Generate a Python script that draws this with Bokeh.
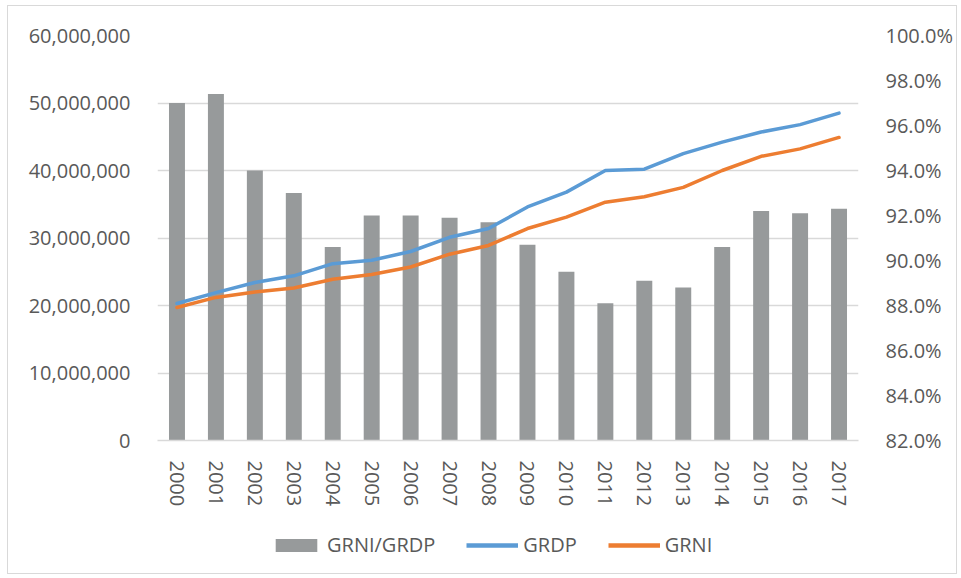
from bokeh.plotting import figure
from bokeh.layouts import column
from bokeh.models import (ColumnDataSource, FactorRange, Range1d, LinearAxis,
                          NumeralTickFormatter, PrintfTickFormatter, FixedTicker,
                          Legend, LegendItem)
from bokeh.embed import file_html
from bokeh.resources import INLINE

years = ["2000", "2001", "2002", "2003", "2004", "2005", "2006", "2007", "2008",
         "2009", "2010", "2011", "2012", "2013", "2014", "2015", "2016", "2017"]
ratio_pct = [97.0, 97.4, 94.0, 93.0, 90.6, 92.0, 92.0, 91.9, 91.7,
             90.7, 89.5, 88.1, 89.1, 88.8, 90.6, 92.2, 92.1, 92.3]
grdp = [20.3e6, 21.9e6, 23.4e6, 24.4e6, 26.2e6, 26.7e6, 28.0e6, 30.1e6, 31.4e6,
        34.6e6, 36.8e6, 40.0e6, 40.2e6, 42.5e6, 44.2e6, 45.7e6, 46.8e6, 48.5e6]
grni = [19.7e6, 21.2e6, 22.0e6, 22.6e6, 23.9e6, 24.6e6, 25.7e6, 27.6e6, 28.9e6,
        31.4e6, 33.1e6, 35.3e6, 36.1e6, 37.5e6, 40.0e6, 42.1e6, 43.2e6, 44.9e6]
left_ticks = [0, 10e6, 20e6, 30e6, 40e6, 50e6, 60e6]
right_ticks = [82, 84, 86, 88, 90, 92, 94, 96, 98, 100]
series_names = ["GRNI/GRDP", "GRDP", "GRNI"]

FONT = "Open Sans"
TXT = "#595959"
GRID = "#d9d9d9"
BAR_C = "#979a9b"
GRDP_C = "#5b9bd5"
GRNI_C = "#ed7d31"

src = ColumnDataSource(dict(year=years, ratio=ratio_pct, grdp=grdp, grni=grni))

p = figure(x_range=FactorRange(factors=years), y_range=Range1d(0, 60e6),
           frame_width=701, frame_height=405,
           min_border_left=149, min_border_right=94, min_border_top=29, min_border_bottom=79,
           output_backend="svg", toolbar_location=None)
p.extra_y_ranges = {"pct": Range1d(82, 100)}
p.outline_line_color = None
p.background_fill_color = "white"
p.border_fill_color = "white"

# left axis
ya = p.yaxis[0]
ya.ticker = FixedTicker(ticks=left_ticks)
ya.formatter = NumeralTickFormatter(format="0,0")
ya.axis_line_color = None
ya.major_tick_line_color = None
ya.minor_tick_line_color = None
ya.major_label_text_font = FONT
ya.major_label_text_font_size = "20px"
ya.major_label_text_color = TXT
ya.major_label_standoff = 21

# right axis
ra = LinearAxis(y_range_name="pct", ticker=FixedTicker(ticks=right_ticks),
                formatter=PrintfTickFormatter(format="%.1f%%"))
ra.axis_line_color = None
ra.major_tick_line_color = None
ra.minor_tick_line_color = None
ra.major_label_text_font = FONT
ra.major_label_text_font_size = "20px"
ra.major_label_text_color = TXT
ra.major_label_standoff = 21
p.add_layout(ra, "right")

# x axis
xa = p.xaxis[0]
xa.axis_line_color = GRID
xa.axis_line_width = 1.5
xa.major_tick_line_color = None
xa.minor_tick_line_color = None
xa.major_label_orientation = "vertical"
xa.major_label_text_font = FONT
xa.major_label_text_font_size = "20px"
xa.major_label_text_color = TXT
xa.major_label_standoff = 14

p.xgrid.grid_line_color = None
p.ygrid.grid_line_color = GRID
p.ygrid.grid_line_width = 1.5
p.ygrid.ticker = FixedTicker(ticks=left_ticks)

p.vbar(x="year", top="ratio", bottom=82, width=0.41, source=src,
       y_range_name="pct", fill_color=BAR_C, line_color=None)
p.line(x="year", y="grdp", source=src, line_color=GRDP_C, line_width=3.5,
       line_join="round", line_cap="round")
p.line(x="year", y="grni", source=src, line_color=GRNI_C, line_width=3.5,
       line_join="round", line_cap="round")

# legend strip below the chart (off-view proxy glyphs carrying the series styles)
lf = figure(width=945, height=54, x_range=Range1d(0, 1), y_range=Range1d(0, 1),
            x_axis_type=None, y_axis_type=None, min_border=0,
            output_backend="svg", toolbar_location=None)
lf.outline_line_color = None
lf.xgrid.visible = False
lf.ygrid.visible = False
lf.border_fill_color = "white"
lsrc = ColumnDataSource(dict(x=[-5.0], y=[-5.0]))
r0 = lf.vbar(x="x", top="y", width=0.1, source=lsrc, fill_color=BAR_C, line_color=None)
r1 = lf.line(x="x", y="y", source=lsrc, line_color=GRDP_C, line_width=4.5)
r2 = lf.line(x="x", y="y", source=lsrc, line_color=GRNI_C, line_width=4.5)
legend = Legend(items=[LegendItem(label=series_names[0], renderers=[r0]),
                       LegendItem(label=series_names[1], renderers=[r1]),
                       LegendItem(label=series_names[2], renderers=[r2])],
                orientation="horizontal", location=(113, 15),
                glyph_width=52, glyph_height=16, label_standoff=5, spacing=31,
                padding=0, margin=0,
                label_text_font=FONT, label_text_font_size="20px", label_text_color=TXT,
                border_line_color=None, background_fill_alpha=0)
lf.add_layout(legend, "center")

layout = column(p, lf, spacing=0,
                styles={"border": "1px solid #d9d9d9", "margin": "5px 0px 0px 7px",
                        "background-color": "white"})

open("out.html", "w").write(file_html(layout, INLINE))
